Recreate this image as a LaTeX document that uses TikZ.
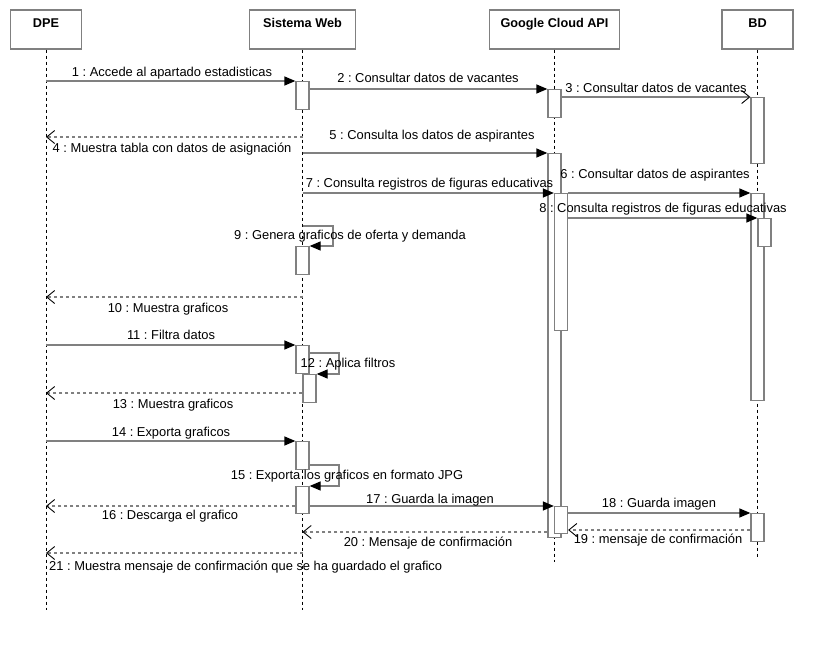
\documentclass[tikz,border=0pt]{standalone}
\usepackage{fontspec}
\setmainfont{Liberation Sans}
\usetikzlibrary{arrows.meta}
\definecolor{edge}{HTML}{808080}
\frenchspacing
\begin{document}
\begin{tikzpicture}[x=1pt,y=-1pt,
  head/.style={draw=edge, line width=1.3pt, fill=white, inner sep=0pt, minimum height=39pt,
    text height=9pt, text depth=14pt, font=\fontsize{12.7}{14}\selectfont\bfseries},
  act/.style={draw=edge, line width=1.3pt, fill=white, inner sep=0pt, minimum width=13pt, anchor=north},
  lifeline/.style={draw=black, line width=0.8pt, dash pattern=on 3pt off 3pt},
  msg/.style={draw=edge, line width=1.3pt, -{Triangle[length=11pt,width=9pt,color=black]}},
  ret/.style={draw=edge, line width=1.3pt, dash pattern=on 3pt off 3pt,
    -{Straight Barb[length=8pt,width=13pt,color=black,line width=0.9pt]}},
  lbl/.style={inner sep=0pt, anchor=base, text=black, font=\fontsize{12.9}{14}\selectfont},
]
\useasboundingbox (0,0) rectangle (833,654);
\fill[white] (0,0) rectangle (833,654);

% heads
\node[head, minimum width=71pt] (dpe) at (46,29.5) {DPE};
\node[head, minimum width=106pt] (sw) at (302.5,29.5) {Sistema Web};
\node[head, minimum width=130pt] (gca) at (554.5,29.5) {Google Cloud API};
\node[head, minimum width=71pt] (bd) at (757.5,29.5) {BD};

% lifeline ends
\coordinate (dpeE) at (46,610);
\coordinate (swE) at (302.5,610);
\coordinate (gcaE) at (554.5,562);
\coordinate (bdE) at (757.5,557);
\draw[lifeline] (dpe.south) -- (dpeE);
\draw[lifeline] (sw.south) -- (swE);
\draw[lifeline] (gca.south) -- (gcaE);
\draw[lifeline] (bd.south) -- (bdE);

% activations
\node[act, minimum height=28pt] (a1) at (302.5,81) {};
\node[act, minimum height=28pt] (g1) at (554.5,89) {};
\node[act, minimum height=66pt] (b1) at (757.5,97) {};
\node[act, minimum height=384pt] (g2) at (554.5,153) {};
\node[act, minimum height=137pt] (g3) at (561,193) {};
\node[act, minimum height=207pt] (b2) at (757.5,193) {};
\node[act, minimum height=28pt] (b3) at (764.5,218) {};
\node[act, minimum height=28pt] (a2) at (302.5,246) {};
\node[act, minimum height=28pt] (a3) at (302.5,345) {};
\node[act, minimum height=28pt] (a4) at (309.5,374) {};
\node[act, minimum height=28pt] (a5) at (302.5,441) {};
\node[act, minimum height=27pt] (a6) at (302.5,486) {};
\node[act, minimum height=27pt] (g4) at (561,506) {};
\node[act, minimum height=28pt] (b4) at (757.5,513) {};

% helper coordinates
\coordinate (y4) at (0,137);
\coordinate (l9) at (333,226);
\coordinate (y10) at (0,297);
\coordinate (l12) at (339,353);
\coordinate (y13) at (0,393);
\coordinate (l15) at (339,465);
\coordinate (y16) at (0,506);
\coordinate (y19) at (0,530);
\coordinate (y20) at (0,532);
\coordinate (y21) at (0,553);

% messages
\draw[msg] (dpe |- a1.north) -- (a1.north west);
\draw[msg] (a1.east |- g1.north) -- (g1.north west);
\draw[ret, dash pattern=] (g1.east |- b1.north) -- (b1.north west);
\draw[ret] (sw |- y4) -- (dpe |- y4);
\draw[msg] (sw |- g2.north) -- (g2.north west);
\draw[msg] (g3.north east) -- (b2.north west);
\draw[msg] (sw |- g3.north) -- (g3.north west);
\draw[msg] (g3.east |- b3.north) -- (b3.north west);
\draw[msg] (sw |- l9) -- (l9) -- (l9 |- a2.north) -- (a2.north east);
\draw[ret] (sw |- y10) -- (dpe |- y10);
\draw[msg] (dpe |- a3.north) -- (a3.north west);
\draw[msg] (a3.east |- l12) -- (l12) -- (l12 |- a4.north) -- (a4.north east);
\draw[ret] (a4.west |- y13) -- (dpe |- y13);
\draw[msg] (dpe |- a5.north) -- (a5.north west);
\draw[msg] (a5.east |- l15) -- (l15) -- (l15 |- a6.north) -- (a6.north east);
\draw[ret] (a6.west |- y16) -- (dpe |- y16);
\draw[msg] (a6.east |- g4.north) -- (g4.north west);
\draw[msg] (g4.east |- b4.north) -- (b4.north west);
\draw[ret] (b4.west |- y19) -- (g4.east |- y19);
\draw[ret] (g2.west |- y20) -- (sw |- y20);
\draw[ret] (sw |- y21) -- (dpe |- y21);

% labels
\node[lbl] (t1) at (172,76) {1 : Accede al apartado estadisticas};
\node[lbl] (t2) at (428,82) {2 : Consultar datos de vacantes};
\node[lbl] (t3) at (656,92) {3 : Consultar datos de vacantes};
\node[lbl] (t4) at (172,152) {4 : Muestra tabla con datos de asignación};
\node[lbl] (t5) at (432,139) {5 : Consulta los datos de aspirantes};
\node[lbl] (t6) at (655,178) {6 : Consultar datos de aspirantes};
\node[lbl] (t7) at (429.5,187) {7 : Consulta registros de figuras educativas};
\node[lbl] (t8) at (663,212) {8 : Consulta registros de figuras educativas};
\node[lbl] (t9) at (350,239) {9 : Genera graficos de oferta y demanda};
\node[lbl] (t10) at (168,312) {10 : Muestra graficos};
\node[lbl] (t11) at (171,339) {11 : Filtra datos};
\node[lbl] (t12) at (348,367) {12 : Aplica filtros};
\node[lbl] (t13) at (173,408) {13 : Muestra graficos};
\node[lbl] (t14) at (171,436) {14 : Exporta graficos};
\node[lbl] (t15) at (347,479) {15 : Exporta los graficos en formato JPG};
\node[lbl] (t16) at (170,519) {16 : Descarga el grafico};
\node[lbl] (t17) at (430,503) {17 : Guarda la imagen};
\node[lbl] (t18) at (659,507) {18 : Guarda imagen};
\node[lbl] (t19) at (658,543) {19 : mensaje de confirmación};
\node[lbl] (t20) at (428,546) {20 : Mensaje de confirmación};
\node[lbl, anchor=base west] (t21) at (49,570) {21 : Muestra mensaje de confirmación que se ha guardado el grafico};
\end{tikzpicture}
\end{document}
